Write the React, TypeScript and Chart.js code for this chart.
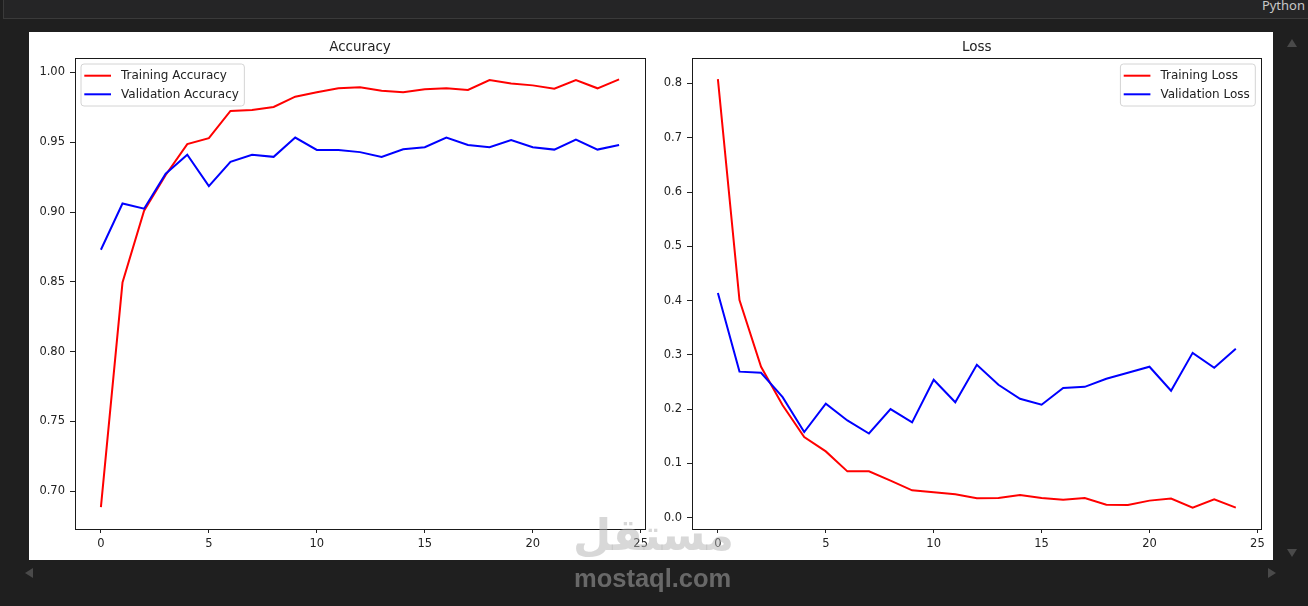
import React, { useEffect, useRef } from "react";
import { Chart, registerables } from "chart.js";

Chart.register(...registerables);

const epochs = [0, 1, 2, 3, 4, 5, 6, 7, 8, 9, 10, 11, 12, 13, 14, 15, 16, 17, 18, 19, 20, 21, 22, 23, 24];
const trainAcc = [0.6886, 0.8495, 0.901, 0.9265, 0.9486, 0.9529, 0.9724, 0.973, 0.9752, 0.9826, 0.9857, 0.9886, 0.9893, 0.9869, 0.9857, 0.988, 0.9886, 0.9874, 0.9945, 0.9921, 0.9907, 0.9883, 0.9945, 0.9886, 0.995];
const valAcc = [0.873, 0.9061, 0.9024, 0.9274, 0.941, 0.9186, 0.936, 0.941, 0.9395, 0.9533, 0.9445, 0.9445, 0.9429, 0.9395, 0.945, 0.9464, 0.9533, 0.948, 0.9464, 0.9516, 0.9464, 0.9447, 0.9519, 0.9447, 0.948];
const trainLoss = [0.808, 0.401, 0.278, 0.207, 0.1485, 0.122, 0.0852, 0.0852, 0.068, 0.0503, 0.0466, 0.0429, 0.0356, 0.036, 0.0417, 0.0362, 0.0331, 0.036, 0.0239, 0.0233, 0.0313, 0.035, 0.0184, 0.0337, 0.0184];
const valLoss = [0.414, 0.269, 0.267, 0.222, 0.1577, 0.2098, 0.179, 0.155, 0.2, 0.1754, 0.254, 0.2125, 0.2816, 0.2448, 0.219, 0.208, 0.239, 0.241, 0.256, 0.2668, 0.278, 0.2337, 0.3036, 0.276, 0.311];

const epochTicks = [0, 5, 10, 15, 20, 25];
const accTicks = [0.7, 0.75, 0.8, 0.85, 0.9, 0.95, 1.0];
const lossTicks = [0.0, 0.1, 0.2, 0.3, 0.4, 0.5, 0.6, 0.7, 0.8];

const FONT = '"DejaVu Sans", sans-serif';
const TEXT = "#222222";

const mplPlugin = {
  id: "mpl",
  afterDraw(chart: any, _args: any, opts: any) {
    const { ctx, chartArea: a } = chart;
    ctx.save();
    // frame
    ctx.strokeStyle = "#1a1a1a";
    ctx.lineWidth = 1;
    const l = Math.floor(a.left) + 0.5;
    const t = Math.floor(a.top) + 0.5;
    const r = Math.floor(a.right) + 0.5;
    const b = Math.floor(a.bottom) + 0.5;
    ctx.strokeRect(l, t, r - l, b - t);
    // title
    ctx.fillStyle = TEXT;
    ctx.font = `13.5px ${FONT}`;
    ctx.textAlign = "center";
    ctx.textBaseline = "alphabetic";
    ctx.fillText(opts.title, (a.left + a.right) / 2, a.top - 7);
    // legend
    ctx.font = `12px ${FONT}`;
    const items = chart.data.datasets.map((d: any) => ({ label: d.label, color: d.borderColor }));
    const tw = Math.max(...items.map((i: any) => ctx.measureText(i.label).width));
    const w = 40 + tw + 5.5;
    const h = 42;
    const x = opts.side === "left" ? a.left + 6 : a.right - 6.4 - w;
    const y = a.top + 6;
    ctx.beginPath();
    ctx.roundRect(x, y, w, h, 3);
    ctx.fillStyle = "rgba(255,255,255,0.8)";
    ctx.fill();
    ctx.strokeStyle = "#d4d4d4";
    ctx.lineWidth = 1;
    ctx.stroke();
    items.forEach((it: any, i: number) => {
      const yy = y + 11.7 + i * 18.6;
      ctx.beginPath();
      ctx.strokeStyle = it.color;
      ctx.lineWidth = 2;
      ctx.moveTo(x + 3.3, yy);
      ctx.lineTo(x + 30, yy);
      ctx.stroke();
      ctx.fillStyle = TEXT;
      ctx.textAlign = "left";
      ctx.textBaseline = "middle";
      ctx.fillText(it.label, x + 40, yy + 0.5);
    });
    ctx.restore();
  },
};

function makeConfig(p: {
  title: string;
  side: string;
  labelA: string;
  labelB: string;
  a: number[];
  b: number[];
  yTicks: number[];
  yMin: number;
  yMax: number;
  digits: number;
  yWidth: number;
  padRight: number;
}): any {
  const tickFont = { family: FONT, size: 11.5 };
  return {
    type: "line",
    data: {
      datasets: [
        {
          label: p.labelA,
          data: p.a.map((v, i) => ({ x: epochs[i], y: v })),
          borderColor: "#ff0000",
          borderWidth: 2,
          pointRadius: 0,
          tension: 0,
          fill: false,
          order: 1,
        },
        {
          label: p.labelB,
          data: p.b.map((v, i) => ({ x: epochs[i], y: v })),
          borderColor: "#0000ff",
          borderWidth: 2,
          pointRadius: 0,
          tension: 0,
          fill: false,
          order: 0,
        },
      ],
    },
    options: {
      animation: false,
      responsive: false,
      maintainAspectRatio: false,
      devicePixelRatio: 1,
      events: [],
      layout: { padding: { top: 26, right: p.padRight, left: 0, bottom: 0 } },
      plugins: {
        legend: { display: false },
        title: { display: false },
        tooltip: { enabled: false },
        mpl: { title: p.title, side: p.side },
      },
      scales: {
        x: {
          type: "linear",
          min: -1.2,
          max: 25.2,
          afterBuildTicks: (s: any) => {
            s.ticks = epochTicks.map((v) => ({ value: v }));
          },
          afterFit: (s: any) => {
            s.height = 31;
          },
          grid: { display: true, drawOnChartArea: false, drawTicks: true, tickLength: 4, color: "#222", lineWidth: 1 },
          border: { display: false },
          ticks: {
            font: tickFont,
            color: TEXT,
            padding: 4,
            maxRotation: 0,
            autoSkip: false,
            callback: (v: any) => String(v),
          },
        },
        y: {
          type: "linear",
          min: p.yMin,
          max: p.yMax,
          afterBuildTicks: (s: any) => {
            s.ticks = p.yTicks.map((v) => ({ value: v }));
          },
          afterFit: (s: any) => {
            s.width = p.yWidth;
          },
          grid: { display: true, drawOnChartArea: false, drawTicks: true, tickLength: 5, color: "#222", lineWidth: 1 },
          border: { display: false },
          ticks: {
            font: tickFont,
            color: TEXT,
            padding: 5,
            autoSkip: false,
            callback: (v: any) => Number(v).toFixed(p.digits),
          },
        },
      },
    },
    plugins: [mplPlugin],
  };
}

function ChartCanvas({ config, width, height, left }: { config: any; width: number; height: number; left: number }) {
  const ref = useRef<HTMLCanvasElement>(null);
  useEffect(() => {
    if (!ref.current) return;
    const c = new Chart(ref.current, config);
    return () => c.destroy();
  }, []);
  return (
    <canvas
      ref={ref}
      width={width}
      height={height}
      style={{ position: "absolute", left, top: 0, width, height }}
    />
  );
}

function Tri({ dir, x, y }: { dir: string; x: number; y: number }) {
  const s = 5;
  const c = "#4a4a4a";
  const style: any = { position: "absolute", left: x, top: y, width: 0, height: 0 };
  if (dir === "up") Object.assign(style, { borderLeft: `${s}px solid transparent`, borderRight: `${s}px solid transparent`, borderBottom: `${s * 1.6}px solid ${c}` });
  if (dir === "down") Object.assign(style, { borderLeft: `${s}px solid transparent`, borderRight: `${s}px solid transparent`, borderTop: `${s * 1.6}px solid ${c}` });
  if (dir === "left") Object.assign(style, { borderTop: `${s}px solid transparent`, borderBottom: `${s}px solid transparent`, borderRight: `${s * 1.6}px solid ${c}` });
  if (dir === "right") Object.assign(style, { borderTop: `${s}px solid transparent`, borderBottom: `${s}px solid transparent`, borderLeft: `${s * 1.6}px solid ${c}` });
  return <div style={style} />;
}

export default function App() {
  const accConfig = makeConfig({
    title: "Accuracy",
    side: "left",
    labelA: "Training Accuracy",
    labelB: "Validation Accuracy",
    a: trainAcc,
    b: valAcc,
    yTicks: accTicks,
    yMin: 0.673,
    yMax: 1.0103,
    digits: 2,
    yWidth: 46,
    padRight: 15,
  });
  const lossConfig = makeConfig({
    title: "Loss",
    side: "right",
    labelA: "Training Loss",
    labelB: "Validation Loss",
    a: trainLoss,
    b: valLoss,
    yTicks: lossTicks,
    yMin: -0.021,
    yMax: 0.847,
    digits: 1,
    yWidth: 32,
    padRight: 11.3,
  });
  return (
    <div
      style={{
        position: "fixed",
        left: 0,
        top: 0,
        width: 1308,
        height: 606,
        background: "#1f1f1f",
        overflow: "hidden",
      }}
    >
      <div
        style={{
          position: "absolute",
          left: 3,
          top: -1,
          width: 1320,
          height: 19,
          background: "#252526",
          borderBottom: "1px solid #3a3a3a",
          borderLeft: "1px solid #3a3a3a",
        }}
      />
      <div
        style={{
          position: "absolute",
          right: 3,
          top: -4,
          fontFamily: '"Noto Sans", sans-serif',
          fontSize: 13,
          color: "#c8c8c8",
          lineHeight: "18px",
        }}
      >
        Python
      </div>
      <div
        style={{
          position: "absolute",
          left: 29,
          top: 32,
          width: 1244,
          height: 528,
          background: "#ffffff",
        }}
      >
        <ChartCanvas config={accConfig} width={631} height={528} left={0} />
        <ChartCanvas config={lossConfig} width={613} height={528} left={631} />
      </div>
      <Tri dir="up" x={1287} y={39} />
      <Tri dir="down" x={1287} y={549} />
      <Tri dir="left" x={25} y={568} />
      <Tri dir="right" x={1268} y={568} />
      <div
        style={{
          position: "absolute",
          left: 574,
          top: 505,
          width: 160,
          textAlign: "center",
          fontFamily: '"DejaVu Sans", sans-serif',
          fontWeight: "bold",
          fontSize: 44,
          lineHeight: "60px",
          color: "rgba(177,177,177,0.5)",
          direction: "rtl",
        }}
      >
        مستقل
      </div>
      <div
        style={{
          position: "absolute",
          left: 574,
          top: 563,
          fontFamily: '"Liberation Sans", sans-serif',
          fontWeight: "bold",
          fontSize: 25.5,
          lineHeight: "30px",
          color: "rgba(177,177,177,0.5)",
        }}
      >
        mostaql.com
      </div>
    </div>
  );
}
